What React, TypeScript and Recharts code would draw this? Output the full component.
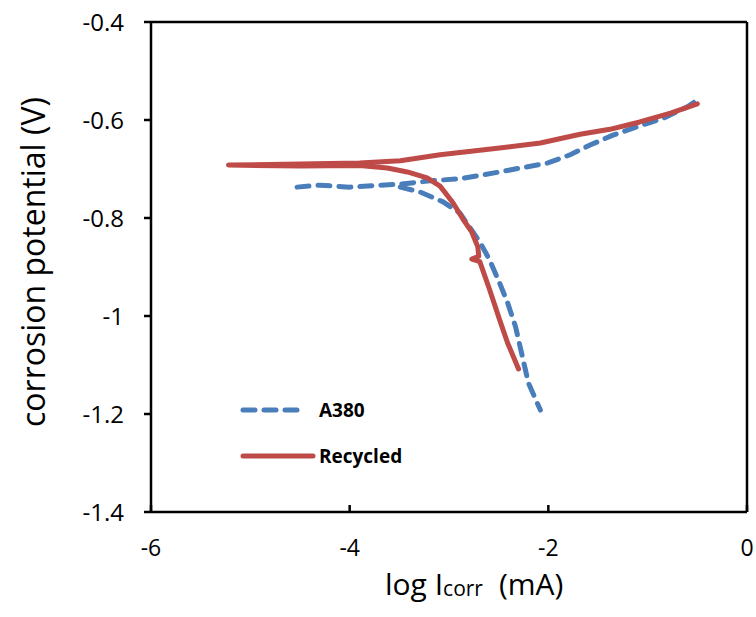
import { Legend, Line, LineChart, ReferenceLine, XAxis, YAxis } from "recharts";

// Recycled (solid red): cathodic branch bottom -> tip -> anodic branch
const recycledLogI = [
  -2.3, -2.41, -2.49, -2.59, -2.69, -2.77, -2.7, -2.71, -2.77, -2.86, -2.96, -3.09, -3.22, -3.42, -3.62,
  -3.9, -4.5, -5.22, -4.5, -3.9, -3.49, -3.09, -2.49, -2.08, -1.68, -1.38, -1.08, -0.77, -0.5,
];
const recycledE = [
  -1.108, -1.055, -1.008, -0.947, -0.889, -0.884, -0.878, -0.859, -0.829, -0.802, -0.769, -0.735, -0.718,
  -0.706, -0.698, -0.693, -0.694, -0.692, -0.69, -0.688, -0.683, -0.671, -0.657, -0.647, -0.629, -0.619,
  -0.604, -0.586, -0.567,
];

// A380 (dashed blue), drawn as two pieces so the dashes don't overlap
const a380AnodicLogI = [
  -4.53, -4.3, -4.0, -3.69, -3.49, -3.19, -2.89, -2.66, -2.49, -2.28, -2.01, -1.78, -1.58, -1.35, -1.11,
  -0.84, -0.6, -0.47,
];
const a380AnodicE = [
  -0.737, -0.733, -0.737, -0.733, -0.731, -0.724, -0.72, -0.712, -0.706, -0.698, -0.688, -0.671, -0.651,
  -0.631, -0.614, -0.596, -0.573, -0.555,
];
const a380CathodicLogI = [-3.49, -3.29, -3.06, -2.89, -2.69, -2.59, -2.49, -2.41, -2.33, -2.26, -2.2, -2.08];
const a380CathodicE = [-0.737, -0.747, -0.767, -0.79, -0.849, -0.886, -0.933, -0.973, -1.022, -1.084, -1.137, -1.192];

const xTicks = [-6, -4, -2, 0];
const yTicks = [-1.4, -1.2, -1, -0.8, -0.6, -0.4];

const BLUE = "#4a7ebb";
const RED = "#be4b48";
const FONT = "'Open Sans', sans-serif";

const toRows = (xs: number[], ys: number[]) => xs.map((x, i) => ({ x, y: ys[i] }));
const recycled = toRows(recycledLogI, recycledE);
const a380Anodic = toRows(a380AnodicLogI, a380AnodicE);
const a380Cathodic = toRows(a380CathodicLogI, a380CathodicE);

const XTick = ({ x, y, payload }: any) => (
  <g>
    <line x1={x} x2={x} y1={y} y2={y - 7} stroke="#000" strokeWidth={2.5} />
    <text x={x} y={y + 44} textAnchor="middle" fontSize={23} fontFamily={FONT} fill="#000">
      {payload.value}
    </text>
  </g>
);

const YTick = ({ x, y, payload }: any) => (
  <g>
    <line x1={x - 7} x2={x} y1={y} y2={y} stroke="#000" strokeWidth={2.5} />
    <text x={x - 27} y={y + 9} textAnchor="end" fontSize={24} fontFamily={FONT} fill="#000">
      {payload.value}
    </text>
  </g>
);

const LegendBox = () => (
  <svg width={220} height={80}>
    <line x1={10} x2={72} y1={18} y2={18} stroke={BLUE} strokeWidth={5} strokeDasharray="12 9" strokeLinecap="round" />
    <text x={86} y={25} fontSize={19} fontWeight={700} fontFamily={FONT}>A380</text>
    <line x1={10} x2={80} y1={64} y2={64} stroke={RED} strokeWidth={5} strokeLinecap="round" />
    <text x={86} y={71} fontSize={19} fontWeight={700} fontFamily={FONT}>Recycled</text>
  </svg>
);

export default function App() {
  return (
    <div style={{ position: "absolute", left: 0, top: 0, background: "#fff" }}>
      <LineChart width={756} height={617} margin={{ top: 22, right: 9, bottom: 45, left: 1 }}>
        <XAxis dataKey="x" type="number" domain={[-6, 0]} ticks={xTicks} allowDataOverflow
               height={60} tickSize={0} tickMargin={0} tickLine={false}
               axisLine={{ stroke: "#000", strokeWidth: 2.5 }} tick={<XTick />}
               label={() => (
                 <text x={385} y={595} textAnchor="start" fontFamily={FONT} fill="#000">
                   <tspan fontSize={30}>log I</tspan>
                   <tspan fontSize={21} dy={1}>corr</tspan>
                   <tspan fontSize={30} dx={16} dy={-1}>(mA)</tspan>
                 </text>
               )} />
        <YAxis dataKey="y" type="number" domain={[-1.4, -0.4]} ticks={yTicks} allowDataOverflow
               width={150} tickSize={0} tickMargin={0} tickLine={false}
               axisLine={{ stroke: "#000", strokeWidth: 2.5 }} tick={<YTick />}
               label={() => (
                 <text x={45} y={262} transform="rotate(-90 45 262)" textAnchor="middle"
                       fontSize={32} fontFamily={FONT} fill="#000">
                   corrosion potential (V)
                 </text>
               )} />
        <ReferenceLine y={-0.4} stroke="#000" strokeWidth={2.5} />
        <ReferenceLine x={0} stroke="#000" strokeWidth={2.5} />
        <Legend layout="horizontal" verticalAlign="middle" align="center" content={<LegendBox />}
                wrapperStyle={{ left: 233, top: 392, width: 220, height: 80 }} />
        <Line data={a380Anodic} dataKey="y" name="A380" type="linear" stroke={BLUE} strokeWidth={5}
              strokeDasharray="12 9" strokeLinecap="round" dot={false} isAnimationActive={false} />
        <Line data={a380Cathodic} dataKey="y" name="A380 cathodic" legendType="none" type="linear"
              stroke={BLUE} strokeWidth={5} strokeDasharray="12 9" strokeLinecap="round" dot={false}
              isAnimationActive={false} />
        <Line data={recycled} dataKey="y" name="Recycled" type="linear" stroke={RED} strokeWidth={5}
              strokeLinejoin="round" strokeLinecap="round" dot={false} isAnimationActive={false} />
      </LineChart>
    </div>
  );
}
